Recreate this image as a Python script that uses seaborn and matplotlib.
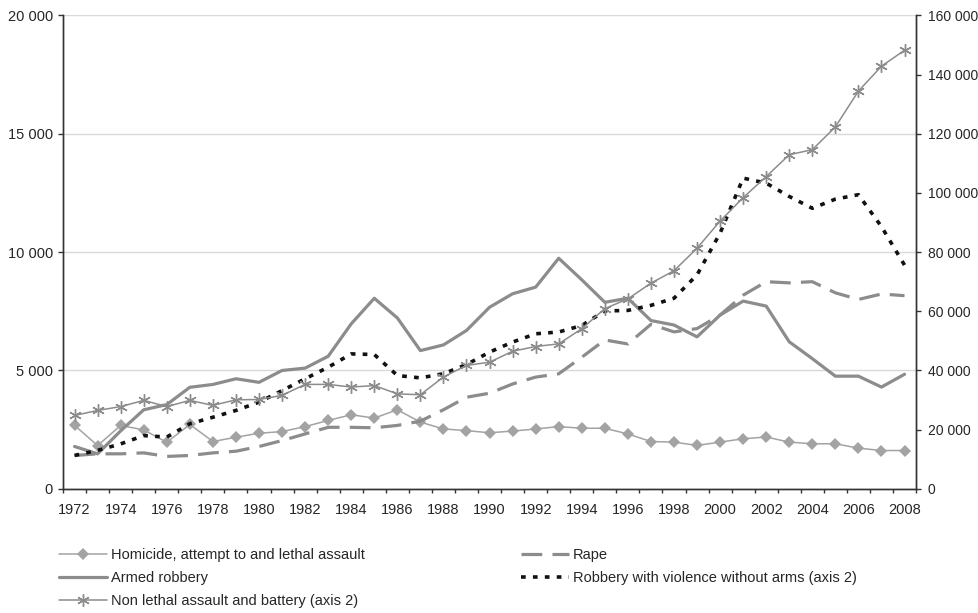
import numpy as np
import pandas as pd
import matplotlib
matplotlib.use("Agg")
import matplotlib.pyplot as plt
from matplotlib.ticker import FuncFormatter, FixedLocator
from matplotlib.lines import Line2D
import seaborn as sns

years = list(range(1972, 2009))

homicide = [2680, 1830, 2680, 2490, 1970, 2720, 2000, 2180, 2350, 2420, 2630, 2890, 3130,
            2990, 3340, 2820, 2530, 2460, 2370, 2440, 2530, 2630, 2560, 2560, 2320, 2000,
            1975, 1835, 1975, 2115, 2190, 1975, 1905, 1905, 1720, 1620, 1620]

armed_robbery = [1790, 1480, 2450, 3340, 3560, 4290, 4410, 4650, 4500, 5000, 5100, 5600, 6970,
                 8050, 7220, 5840, 6080, 6690, 7670, 8240, 8520, 9740, 8830, 7880, 8050, 7110,
                 6920, 6420, 7340, 7930, 7720, 6210, 5500, 4760, 4760, 4300, 4840]

rape = [1410, 1480, 1480, 1520, 1370, 1410, 1520, 1590, 1790, 2040, 2320, 2600, 2600,
        2580, 2680, 2860, 3340, 3870, 4040, 4430, 4720, 4860, 5560, 6290, 6120, 6950,
        6630, 6770, 7340, 8180, 8750, 8700, 8750, 8280, 8000, 8230, 8160]

# axis 2
robbery_no_arms = [11300, 13000, 15200, 18000, 17500, 22000, 24200, 26500, 29300, 33200, 37200,
                   41100, 45600, 45400, 38300, 37500, 38900, 42000, 46200, 49600, 52400, 53000,
                   55200, 60100, 60300, 62000, 64400, 72300, 86400, 105000, 103300, 98800,
                   94800, 97900, 99400, 88600, 75600]

non_lethal = [24800, 26500, 27800, 29900, 27800, 29900, 28200, 30100, 30200, 31600, 35300, 35300,
              34400, 34900, 32100, 31800, 37800, 41700, 42800, 46500, 48100, 49000, 54100,
              60900, 64200, 69500, 73700, 81300, 90500, 98400, 105500, 112900, 114600, 122300,
              134400, 142800, 148200]

labels_left = ["Homicide, attempt to and lethal assault", "Armed robbery",
               "Non lethal assault and battery (axis 2)"]
labels_right = ["Rape", "Robbery with violence without arms (axis 2)"]

df = pd.DataFrame({"year": years, "homicide": homicide, "armed": armed_robbery, "rape": rape,
                   "robbery": robbery_no_arms, "nonlethal": non_lethal})

sns.set_style("white")
plt.rcParams["font.family"] = ["Liberation Sans", "DejaVu Sans"]

GREY = "#8c8c8c"
LIGHT = "#a3a3a3"
DARK = "#111111"
AXC = "#333333"

fig = plt.figure(figsize=(9.79, 6.13), dpi=100)
ax = fig.add_axes([0.0644, 0.2025, 0.8713, 0.7725])
ax2 = ax.twinx()

# left axis series
sns.lineplot(data=df, x="year", y="homicide", ax=ax, color=LIGHT, lw=1.1,
             marker="D", markersize=6, markeredgewidth=0, zorder=3)
sns.lineplot(data=df, x="year", y="armed", ax=ax, color=GREY, lw=2.3, zorder=3)
sns.lineplot(data=df, x="year", y="rape", ax=ax, color=GREY, lw=2.3, zorder=3)
ax.lines[-1].set_dashes((6.5, 3.2))

# right axis series
sns.lineplot(data=df, x="year", y="robbery", ax=ax2, color=DARK, lw=2.6, zorder=3)
ax2.lines[-1].set_dashes((1.3, 2.0))
sns.lineplot(data=df, x="year", y="nonlethal", ax=ax2, color=GREY, lw=1.1,
             marker=(6, 2, 0), markersize=9, markeredgewidth=1.0,
             markeredgecolor=GREY, zorder=3)

fmt = FuncFormatter(lambda v, p: f"{v:,.0f}".replace(",", " "))

ax.set_xlim(1971.5, 2008.5)
ax.set_ylim(0, 20000)
ax2.set_ylim(0, 160000)
ax.set_yticks(np.arange(0, 20001, 5000))
ax2.set_yticks(np.arange(0, 160001, 20000))
ax.yaxis.set_major_formatter(fmt)
ax2.yaxis.set_major_formatter(fmt)

# tick marks between years, labels every second year
ax.xaxis.set_major_locator(FixedLocator(np.arange(1971.5, 2009, 1)))
ax.xaxis.set_minor_locator(FixedLocator(years[::2]))
ax.xaxis.set_major_formatter(FuncFormatter(lambda v, p: ""))
ax.xaxis.set_minor_formatter(FuncFormatter(lambda v, p: f"{int(round(v))}"))
ax.tick_params(axis="x", which="major", direction="out", length=3, width=1, color=AXC,
               bottom=True)
ax.tick_params(axis="x", which="minor", length=0, pad=10.5, labelsize=10.5, bottom=True)
ax.tick_params(axis="y", direction="out", length=3.6, width=1, color=AXC, labelsize=10.5,
               left=True, pad=3.6)
ax2.tick_params(axis="y", direction="out", length=3.6, width=1, color=AXC, labelsize=10,
                right=True, pad=5)

ax.set_xlabel("")
ax.set_ylabel("")
ax2.set_ylabel("")
ax.grid(axis="y", color="#d9d9d9", lw=1)
ax.set_axisbelow(True)

for a in (ax, ax2):
    a.spines["top"].set_visible(False)
    for s in ("left", "right", "bottom"):
        a.spines[s].set_color(AXC)
        a.spines[s].set_linewidth(1)

h_left = [
    Line2D([], [], color=LIGHT, lw=1.1, marker="D", markersize=6, markeredgewidth=0),
    Line2D([], [], color=GREY, lw=2.3),
    Line2D([], [], color=GREY, lw=1.1, marker=(6, 2, 0), markersize=9, markeredgewidth=1.0),
]
h_right = [
    Line2D([], [], color=GREY, lw=2.3, dashes=(6.5, 3.2)),
    Line2D([], [], color=DARK, lw=2.6, dashes=(1.3, 2.0)),
]
leg_kw = dict(loc="upper left", frameon=False, fontsize=10.5, handlelength=3.3,
              handletextpad=0.25, labelspacing=0.62, borderaxespad=0)
fig.legend(h_left, labels_left, bbox_to_anchor=(0.0541, 0.116), **leg_kw)
fig.legend(h_right, labels_right, bbox_to_anchor=(0.526, 0.116), **leg_kw)

fig.savefig("out.png", dpi=100)
